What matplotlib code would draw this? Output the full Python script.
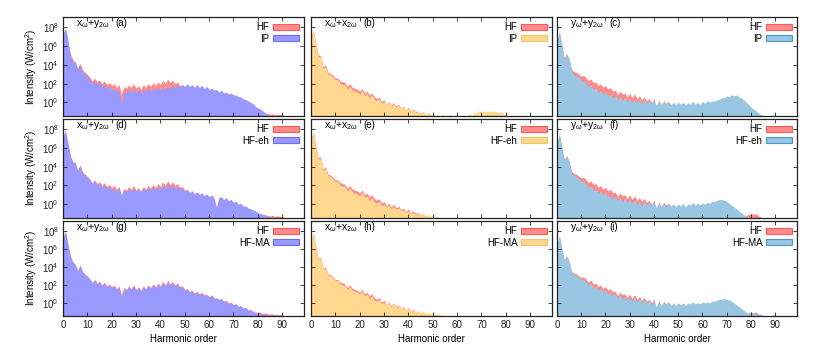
import numpy as np
import matplotlib
matplotlib.use('Agg')
import matplotlib.pyplot as plt
from matplotlib.patches import Patch

plt.rcParams['font.family'] = ['Liberation Sans', 'DejaVu Sans']
plt.rcParams['mathtext.fontset'] = 'custom'
plt.rcParams['mathtext.rm'] = 'Liberation Sans'
plt.rcParams['mathtext.it'] = 'Liberation Sans:italic'
plt.rcParams['mathtext.default'] = 'regular'

# log10 of intensity (W/cm^2), one value per harmonic order starting at 0
# column 1: x_w + y_2w
hf_xy = [7.2, 7.9, 6.5, 5.2, 4.6, 4.3, 3.6, 4.2, 3.5, 3.2, 3.0, 2.7, 2.3, 2.6, 2.2, 2.4, 2.0, 2.3, 1.9, 2.1,
         1.8, 2.0, 1.6, 1.9, 0.9, 1.7, 1.5, 1.9, 1.6, 2.0, 1.5, 1.8, 1.4, 1.9, 1.6, 2.0, 1.7, 2.1, 1.8, 2.2,
         1.9, 2.4, 2.0, 2.5, 2.1, 2.4, 2.0, 2.2, 1.8, 1.9, 1.5, 1.6, 1.3, 1.4, 1.1, 1.3, 1.0, 1.2, 0.9, 1.0,
         0.7, 0.9, 0.6, -0.3, 0.4, 0.5, 0.2, 0.3, 0.0, 0.1, -0.2, -0.1, -0.4, -0.3, -0.6, -0.5, -0.8, -0.7, -0.9, -1.0,
         -1.1, -1.0, -1.2, -1.1, -1.2, -1.25, -1.2, -1.3, -1.25, -1.3, -1.35, -1.4]
ip_xy = [7.3, 7.9, 6.8, 5.0, 4.2, 4.4, 3.5, 4.0, 3.2, 3.0, 2.8, 2.4, 2.0, 2.3, 1.9, 2.1, 1.7, 1.9, 1.5, 1.7,
         1.3, 1.5, 1.2, 1.3, -0.2, 1.2, 1.0, 1.4, 1.1, 1.4, 1.1, 1.3, 1.0, 1.4, 1.2, 1.5, 1.2, 1.4, 1.3, 1.6,
         1.3, 1.6, 1.4, 1.7, 1.5, 1.8, 1.5, 1.9, 1.6, 1.9, 1.7, 2.0, 1.7, 1.9, 1.6, 1.9, 1.6, 1.8, 1.5, 1.7,
         1.4, 1.5, 1.3, 1.4, 1.1, 1.3, 1.0, 1.1, 0.9, 1.0, 0.8, 0.8, 0.6, 0.6, 0.4, 0.3, 0.2, 0.0, -0.1, -0.4,
         -0.6, -0.7, -0.9, -1.1, -1.3, -1.4]
eh_xy = [7.3, 7.8, 6.6, 5.1, 4.4, 4.5, 3.6, 4.1, 3.3, 3.1, 2.9, 2.6, 2.2, 2.5, 2.0, 2.2, 1.8, 2.0, 1.7, 1.9,
         1.5, 1.7, 1.4, 1.6, 1.0, 1.5, 1.3, 1.6, 1.4, 1.7, 1.4, 1.6, 1.3, 1.7, 1.5, 1.8, 1.5, 1.8, 1.6, 1.9,
         1.6, 2.0, 1.7, 2.1, 1.8, 2.0, 1.7, 1.9, 1.6, 1.7, 1.4, 1.5, 1.2, 1.4, 1.1, 1.3, 1.0, 1.2, 0.9, 1.1,
         0.8, 1.0, 0.7, -0.4, 0.7, 0.8, 0.5, 0.7, 0.4, 0.5, 0.2, 0.3, 0.0, 0.1, -0.2, -0.2, -0.4, -0.5, -0.6, -0.7,
         -0.9, -1.0, -1.1, -1.2, -1.3, -1.4]
ma_xy = [7.3, 7.9, 6.5, 5.1, 4.5, 4.2, 3.5, 4.1, 3.4, 3.1, 2.9, 2.6, 2.2, 2.5, 2.1, 2.3, 1.9, 2.2, 1.8, 2.0,
         1.7, 1.9, 1.5, 1.7, 0.6, 1.5, 1.4, 1.8, 1.5, 1.9, 1.4, 1.7, 1.3, 1.8, 1.5, 1.9, 1.6, 2.0, 1.7, 2.0,
         1.8, 2.2, 1.9, 2.3, 2.0, 2.2, 1.9, 2.1, 1.7, 1.8, 1.4, 1.5, 1.2, 1.3, 1.0, 1.2, 0.9, 1.1, 0.8, 0.9,
         0.6, 0.8, 0.5, 0.6, 0.4, 0.4, 0.2, 0.2, -0.1, 0.0, -0.2, -0.1, -0.4, -0.3, -0.6, -0.5, -0.8, -0.8, -1.0, -1.1,
         -1.2, -1.1, -1.3, -1.2, -1.3, -1.35, -1.3, -1.35, -1.4]

# column 2: x_w + x_2w
hf_xx = [7.0, 7.7, 6.2, 5.0, 5.0, 3.8, 4.0, 3.2, 3.1, 2.9, 2.6, 2.6, 2.3, 2.2, 2.1, 1.7, 2.0, 1.6, 1.5, 1.4,
         1.2, 1.5, 1.0, 1.2, 0.8, 1.0, 0.6, 0.4, 0.6, 0.1, 0.3, -0.2, 0.1, -0.3, 0.0, -0.4, -0.2, -0.6, -0.4, -0.8,
         -0.5, -0.9, -0.7, -1.0, -0.9, -1.2, -1.0, -1.3, -1.1, -1.4, -1.2, -1.5, -1.5]
ip_xx = [7.1, 7.6, 6.0, 4.8, 5.0, 3.6, 3.8, 3.0, 3.0, 2.7, 2.4, 2.5, 2.0, 1.9, 1.9, 1.4, 1.7, 1.3, 1.2, 1.1,
         0.9, 1.3, 0.7, 1.0, 0.5, 0.8, 0.3, 0.2, 0.4, -0.1, 0.1, -0.2, 0.0, -0.4, -0.1, -0.5, -0.3, -0.6, -0.5, -0.8,
         -0.6, -0.9, -0.8, -1.1, -0.9, -1.2, -1.0, -1.3, -1.1, -1.3, -1.2, -1.4, -1.3, -1.5, -1.3, -1.5, -1.5, -1.3, -1.5, -1.5,
         -1.3, -1.5, -1.5, -1.3, -1.5, -1.2, -1.4, -1.0, -1.2, -0.9, -1.1, -0.9, -1.0, -0.9, -1.0, -0.9, -1.0, -1.1, -1.0, -1.2,
         -1.3, -1.5]
eh_xx = [7.1, 7.6, 6.0, 4.8, 4.9, 3.6, 3.9, 3.0, 3.0, 2.7, 2.4, 2.5, 2.0, 1.9, 1.9, 1.4, 1.7, 1.3, 1.2, 1.1,
         0.9, 1.3, 0.7, 0.9, 0.4, 0.7, 0.2, 0.1, 0.3, -0.2, 0.0, -0.3, -0.1, -0.5, -0.2, -0.6, -0.4, -0.7, -0.6, -0.9,
         -0.7, -1.0, -0.9, -1.1, -1.0, -1.2, -1.0, -1.3, -1.1, -1.3, -1.2, -1.4, -1.3, -1.5]
ma_xx = [7.1, 7.7, 6.1, 4.9, 5.0, 3.7, 3.9, 3.1, 3.0, 2.8, 2.5, 2.5, 2.1, 2.0, 2.0, 1.5, 1.8, 1.4, 1.3, 1.2,
         1.0, 1.3, 0.8, 1.0, 0.5, 0.8, 0.3, 0.2, 0.4, -0.1, 0.1, -0.2, 0.0, -0.4, -0.1, -0.5, -0.3, -0.6, -0.5, -0.8,
         -0.6, -0.9, -0.8, -1.0, -0.9, -1.1, -0.9, -1.2, -1.0, -1.2, -1.1, -1.3, -1.1, -1.4, -1.3, -1.5]

# column 3: y_w + y_2w
hf_yy = [6.5, 7.4, 6.0, 4.8, 5.2, 4.6, 3.5, 3.3, 3.2, 3.0, 2.8, 2.9, 2.6, 2.3, 2.5, 2.1, 2.2, 1.8, 2.0, 1.6,
         1.8, 1.4, 1.6, 1.2, 1.3, 0.8, 1.2, 0.9, 1.0, 0.6, 1.0, 0.5, 0.9, 0.4, 0.7, 0.3, 0.6, 0.2, 0.4, 0.0,
         0.4, -0.8, 0.3, -0.5, 0.2, -0.1, 0.1, -0.3, 0.0, -0.4, 0.0, -0.3, -0.1, -0.5, -0.2, -0.3, 0.0, -0.4, -0.1, -0.3,
         0.0, -0.4, -0.2, -0.5, -0.3, -0.6, -0.4, -0.7, -0.6, -0.8, -0.8, -0.9, -1.0, -1.0, -1.1, -1.1, -1.2, -1.2, -1.2, -1.1,
         -1.0, -1.1, -1.0, -1.2, -1.4]
ip_yy = [6.6, 7.6, 6.2, 4.6, 5.0, 4.7, 3.3, 3.0, 2.8, 2.6, 2.4, 2.3, 2.0, 1.7, 1.8, 1.4, 1.5, 1.1, 1.3, 0.9,
         1.1, 0.7, 0.9, 0.5, 0.7, 0.3, 0.6, 0.2, 0.5, 0.1, 0.4, 0.0, 0.3, 0.0, 0.3, -0.1, 0.3, 0.0, 0.2, -0.1,
         0.2, -0.3, 0.1, -0.2, 0.1, -0.2, 0.0, -0.3, 0.0, -0.2, 0.0, -0.2, 0.0, -0.3, 0.0, -0.2, 0.1, -0.2, 0.0, -0.2,
         0.1, -0.1, 0.2, 0.0, 0.2, 0.1, 0.3, 0.3, 0.5, 0.5, 0.7, 0.6, 0.8, 0.7, 0.8, 0.6, 0.5, 0.3, 0.0, -0.2,
         -0.5, -0.7, -0.9, -1.1, -1.3, -1.4]
eh_yy = [6.6, 7.5, 6.1, 4.7, 5.1, 4.6, 3.3, 3.1, 2.9, 2.7, 2.5, 2.4, 2.1, 1.8, 1.9, 1.5, 1.6, 1.2, 1.4, 1.0,
         1.2, 0.8, 1.0, 0.6, 0.8, 0.4, 0.7, 0.3, 0.6, 0.2, 0.5, 0.1, 0.4, 0.0, 0.3, -0.2, 0.3, -0.1, 0.2, -0.2,
         0.2, -0.3, 0.1, -0.2, 0.1, -0.3, 0.1, -0.2, 0.0, -0.3, 0.0, -0.2, 0.1, -0.3, 0.0, -0.1, 0.2, -0.1, 0.1, -0.1,
         0.1, 0.0, 0.2, 0.1, 0.3, 0.3, 0.4, 0.5, 0.5, 0.4, 0.3, 0.1, -0.1, -0.3, -0.5, -0.7, -0.9, -1.1, -1.3, -1.4]
ma_yy = [6.6, 7.4, 6.0, 4.7, 5.1, 4.6, 3.4, 3.2, 3.0, 2.8, 2.6, 2.6, 2.3, 2.0, 2.1, 1.7, 1.8, 1.4, 1.6, 1.2,
         1.4, 1.0, 1.2, 0.8, 1.0, 0.5, 0.9, 0.4, 0.7, 0.3, 0.7, 0.2, 0.6, 0.1, 0.5, 0.0, 0.4, 0.0, 0.3, -0.2,
         0.2, -0.4, 0.2, -0.3, 0.1, -0.2, 0.1, -0.3, 0.0, -0.3, 0.0, -0.2, 0.0, -0.3, 0.0, -0.1, 0.1, -0.1, 0.0, -0.1,
         0.1, 0.0, 0.1, 0.0, 0.2, 0.2, 0.3, 0.4, 0.4, 0.5, 0.4, 0.3, 0.2, 0.0, -0.2, -0.4, -0.6, -0.8, -1.0, -1.2,
         -1.1, -1.2, -1.1, -1.3, -1.2, -1.4]

col_labels = [r'x$_\omega$+y$_{2\omega}$', r'x$_\omega$+x$_{2\omega}$', r'y$_\omega$+y$_{2\omega}$']
panel_tags = ['(a)', '(b)', '(c)', '(d)', '(e)', '(f)', '(g)', '(h)', '(i)']
row_names = ['IP', 'HF-eh', 'HF-MA']
hf_data = [hf_xy, hf_xx, hf_yy]
other_data = [[ip_xy, ip_xx, ip_yy],
              [eh_xy, eh_xx, eh_yy],
              [ma_xy, ma_xx, ma_yy]]

red = ('#ff8c8c', '#ff5a5a')
col_colors = [('#9999ff', '#6b6bff'), ('#ffd78f', '#f5c467'), ('#99c6e2', '#4a98c8')]

W, H = 814, 356
fig = plt.figure(figsize=(W / 100, H / 100), dpi=100)
col_x = [(63, 304), (311, 552), (557, 797)]
row_y = [(17, 116), (119, 217.7), (220.7, 316)]

for r in range(3):
    for c in range(3):
        x0, x1 = col_x[c]
        y0, y1 = row_y[r]
        ax = fig.add_axes([x0 / W, 1 - y1 / H, (x1 - x0) / W, (y1 - y0) / H])
        hf = np.array(hf_data[c])
        ot = np.array(other_data[r][c])
        fc, ec = col_colors[c]
        ax.fill_between(np.arange(len(hf)), 1e-3, 10 ** hf, color=red[0], lw=0)
        ax.fill_between(np.arange(len(ot)), 1e-3, 10 ** ot, color=fc, lw=0)
        ax.set_yscale('log')
        ax.set_xlim(0, 99)
        ax.set_ylim(10 ** -1.45, 10 ** 9.1)
        ax.set_xticks(range(0, 91, 10))
        ax.set_yticks([1e0, 1e2, 1e4, 1e6, 1e8])
        ax.set_yticklabels([r'10$^{%d}$' % e for e in [0, 2, 4, 6, 8]])
        ax.minorticks_off()
        ax.tick_params(direction='in', length=3, width=0.6, top=True, right=True,
                       labelsize=7, pad=3, colors='#222222')
        for s in ax.spines.values():
            s.set_linewidth(0.9)
            s.set_color('#222222')
        if c > 0:
            ax.set_yticklabels([])
        else:
            ax.set_ylabel(r'Intensity (W/cm$^2$)', fontsize=7, labelpad=2)
        if r < 2:
            ax.set_xticklabels([])
        else:
            ax.set_xlabel('Harmonic order', fontsize=7, labelpad=3)
        ax.text(0.055, 0.985, col_labels[c], transform=ax.transAxes, fontsize=7.5, va='top', ha='left')
        ax.text(0.218, 0.985, panel_tags[3 * r + c], transform=ax.transAxes, fontsize=7, va='top', ha='left')
        handles = [Patch(facecolor=red[0], edgecolor=red[1], lw=0.8),
                   Patch(facecolor=fc, edgecolor=ec, lw=0.8)]
        ax.legend(handles, ['HF', row_names[r]], loc='upper right', frameon=False, markerfirst=False,
                  fontsize=7, handlelength=2.6, handleheight=0.55, labelspacing=0.15,
                  borderaxespad=0.25, handletextpad=0.4, borderpad=0.3)

fig.savefig('out.png', dpi=100)
